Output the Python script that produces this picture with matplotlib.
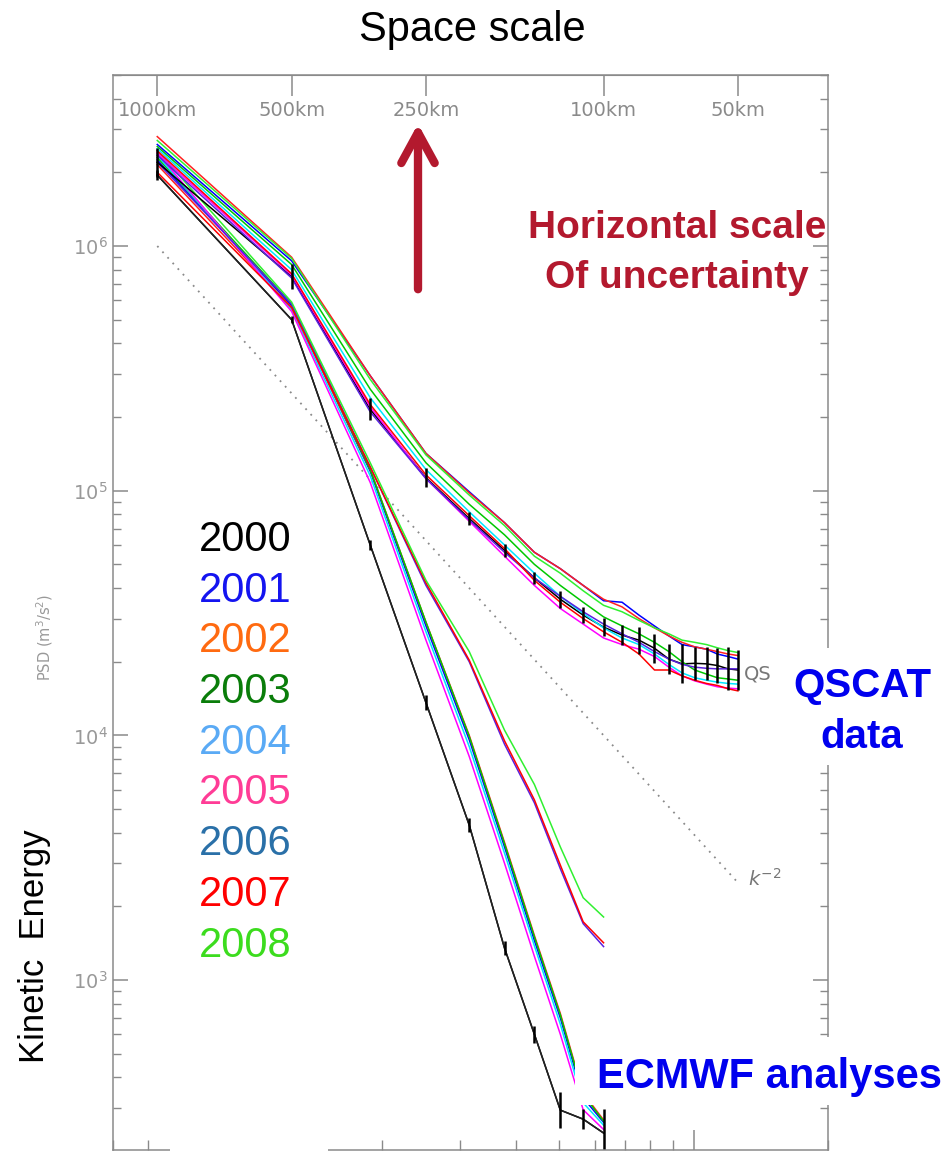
import numpy as np
import matplotlib
matplotlib.use("Agg")
import matplotlib.pyplot as plt
from matplotlib.ticker import LogLocator, NullLocator, NullFormatter, FixedLocator
from matplotlib.patches import Rectangle, FancyArrowPatch

# ---------------------------------------------------------------- data
years = ["2000", "2001", "2002", "2003", "2004", "2005", "2006", "2007", "2008"]
legend_colors = ["#000000", "#1414f0", "#ff6a10", "#0a7d0a", "#5aaaf5",
                 "#ff3c96", "#2a70a8", "#ff0000", "#3cdc1e"]
line_colors = ["#000000", "#0000ff", "#ff2020", "#00c800", "#00e6ff",
               "#ff00ff", "#5a20e0", "#ff0000", "#30f030"]

# wavelengths of the spectral bins (km)
wavelength_ecmwf = [1000, 500, 333.3, 250, 200, 166.7, 142.9, 125, 111.1, 100]
wavelength_qscat = [1000, 500, 333.3, 250, 200, 166.7, 142.9, 125, 111.1, 100,
                    90.9, 83.3, 76.9, 71.4, 66.7, 62.5, 58.8, 55.6, 52.6, 50]
top_tick_km = [1000, 500, 250, 100, 50]

# ECMWF analyses, PSD (m^3/s^2)
ecmwf_2000 = [1.95e6, 5.0e5, 6.0e4, 1.36e4, 4.3e3, 1.35e3, 600, 294, 270, 237]
ecmwf_2001 = [2.25e6, 5.7e5, 1.2e5, 2.8e4, 9.6e3, 3.5e3, 1.45e3, 700, 330, 262]
ecmwf_2002 = [2.15e6, 5.6e5, 1.22e5, 2.9e4, 1.0e4, 3.65e3, 1.52e3, 730, 345, 268]
ecmwf_2003 = [2.3e6, 5.8e5, 1.22e5, 2.9e4, 9.9e3, 3.6e3, 1.5e3, 720, 340, 265]
ecmwf_2004 = [2.35e6, 5.5e5, 1.15e5, 2.65e4, 9.0e3, 3.3e3, 1.38e3, 660, 315, 255]
ecmwf_2005 = [2.4e6, 5.4e5, 1.08e5, 2.45e4, 8.2e3, 3.0e3, 1.25e3, 600, 295, 245]
ecmwf_2006 = [2.2e6, 5.8e5, 1.25e5, 4.1e4, 2.0e4, 9.2e3, 5.3e3, 2.85e3, 1.7e3, 1.37e3]
ecmwf_2007 = [2.0e6, 5.6e5, 1.25e5, 4.2e4, 2.03e4, 9.5e3, 5.45e3, 2.95e3, 1.73e3, 1.42e3]
ecmwf_2008 = [2.45e6, 5.9e5, 1.3e5, 4.3e4, 2.2e4, 1.05e4, 6.3e3, 3.5e3, 2.17e3, 1.81e3]
ecmwf_err_dex = [0.02, 0.015, 0.02, 0.03, 0.03, 0.03, 0.035, 0.075, 0.04, 0.1]

# QuikSCAT, PSD (m^3/s^2)
qscat_2000 = [2.2e6, 7.5e5, 2.15e5, 1.13e5, 7.7e4, 5.7e4, 4.4e4, 3.6e4, 3.1e4, 2.77e4,
              2.57e4, 2.45e4, 2.27e4, 2.05e4, 1.96e4, 1.97e4, 1.96e4, 1.93e4, 1.87e4, 1.85e4]
qscat_2001 = [2.6e6, 8.7e5, 2.95e5, 1.42e5, 9.9e4, 7.4e4, 5.6e4, 4.8e4, 4.1e4, 3.55e4,
              3.5e4, 3.1e4, 2.8e4, 2.55e4, 2.35e4, 2.3e4, 2.25e4, 2.15e4, 2.1e4, 2.05e4]
qscat_2002 = [2.8e6, 9.0e5, 2.95e5, 1.42e5, 9.8e4, 7.4e4, 5.6e4, 4.8e4, 4.1e4, 3.6e4,
              3.35e4, 3.0e4, 2.75e4, 2.55e4, 2.4e4, 2.3e4, 2.25e4, 2.2e4, 2.15e4, 2.12e4]
qscat_2003 = [2.55e6, 8.4e5, 2.6e5, 1.3e5, 8.8e4, 6.6e4, 5.0e4, 4.1e4, 3.5e4, 3.05e4,
              2.8e4, 2.6e4, 2.4e4, 2.2e4, 2.0e4, 1.85e4, 1.78e4, 1.72e4, 1.7e4, 1.68e4]
qscat_2004 = [2.5e6, 8.0e5, 2.4e5, 1.22e5, 8.2e4, 6.0e4, 4.6e4, 3.7e4, 3.15e4, 2.75e4,
              2.5e4, 2.35e4, 2.15e4, 1.95e4, 1.8e4, 1.72e4, 1.68e4, 1.65e4, 1.63e4, 1.62e4]
qscat_2005 = [2.4e6, 7.6e5, 2.2e5, 1.12e5, 7.5e4, 5.4e4, 4.1e4, 3.3e4, 2.85e4, 2.5e4,
              2.35e4, 2.25e4, 2.1e4, 1.9e4, 1.75e4, 1.67e4, 1.62e4, 1.58e4, 1.56e4, 1.55e4]
qscat_2006 = [2.35e6, 7.4e5, 2.1e5, 1.12e5, 7.6e4, 5.6e4, 4.4e4, 3.7e4, 3.2e4, 2.85e4,
              2.6e4, 2.4e4, 2.2e4, 2.05e4, 1.95e4, 1.9e4, 1.88e4, 1.87e4, 1.87e4, 1.87e4]
qscat_2007 = [2.45e6, 7.7e5, 2.25e5, 1.16e5, 7.9e4, 5.8e4, 4.3e4, 3.5e4, 3.0e4, 2.65e4,
              2.4e4, 2.15e4, 1.85e4, 1.85e4, 1.75e4, 1.68e4, 1.63e4, 1.6e4, 1.55e4, 1.52e4]
qscat_2008 = [2.7e6, 8.9e5, 2.85e5, 1.4e5, 9.6e4, 7.2e4, 5.4e4, 4.6e4, 3.9e4, 3.4e4,
              3.2e4, 2.95e4, 2.75e4, 2.6e4, 2.45e4, 2.4e4, 2.35e4, 2.28e4, 2.22e4, 2.18e4]
qscat_err_dex = [0.06, 0.05, 0.045, 0.04, 0.025, 0.027, 0.025, 0.035, 0.033, 0.037,
                 0.04, 0.055, 0.06, 0.06, 0.08, 0.068, 0.068, 0.072, 0.088, 0.082]

# k^-2 reference slope
ref_km = [1000, 50]
ref_psd = [1.0e6, 2.5e3]

ecmwf_series = [ecmwf_2000, ecmwf_2001, ecmwf_2002, ecmwf_2003, ecmwf_2004,
                ecmwf_2005, ecmwf_2006, ecmwf_2007, ecmwf_2008]
qscat_series = [qscat_2000, qscat_2001, qscat_2002, qscat_2003, qscat_2004,
                qscat_2005, qscat_2006, qscat_2007, qscat_2008]


def km_to_k(km):
    """wavelength in km -> wavenumber in rad/m"""
    return 2 * np.pi / (np.asarray(km, dtype=float) * 1e3)


k_ecmwf = km_to_k(wavelength_ecmwf)
k_qscat = km_to_k(wavelength_qscat)

# ---------------------------------------------------------------- figure
W, H = 951, 1153
fig = plt.figure(figsize=(W / 100, H / 100), dpi=100)


def fx(px):
    return px / W


def fy(py):
    return 1 - py / H


gray = "#8a8a8a"
ax = fig.add_axes([fx(113), fy(1150), fx(828) - fx(113), fy(75) - fy(1150)])
ax.set_xscale("log")
ax.set_yscale("log")
ax.set_xlim(5e-6, 2e-4)
ax.set_ylim(202, 5.0e6)

for s in ax.spines.values():
    s.set_color(gray)
    s.set_linewidth(1.1)

# ticks
ax.yaxis.set_major_locator(LogLocator(base=10, numticks=20))
ax.yaxis.set_minor_locator(LogLocator(base=10, subs=np.arange(2, 10), numticks=20))
ax.yaxis.set_minor_formatter(NullFormatter())
ax.tick_params(axis="y", which="major", direction="in", length=11, width=1.1,
               colors=gray, labelsize=14, pad=4, right=True)
ax.tick_params(axis="y", which="minor", direction="in", length=5.8, width=1.0,
               colors=gray, right=True)
ax.xaxis.set_major_locator(LogLocator(base=10, numticks=20))
ax.xaxis.set_minor_locator(LogLocator(base=10, subs=np.arange(2, 10), numticks=20))
ax.tick_params(axis="x", which="major", direction="in", length=14.4, width=1.1,
               colors=gray, labelbottom=False, top=False)
ax.tick_params(axis="x", which="minor", direction="in", length=7.2, width=1.0,
               colors=gray, labelbottom=False, top=False)
for lbl in ax.get_yticklabels():
    lbl.set_color("#999999")

# top axis in wavelength
k_top = km_to_k(top_tick_km)
sec = ax.secondary_xaxis("top")
sec.xaxis.set_major_locator(FixedLocator(k_top))
sec.xaxis.set_minor_locator(NullLocator())
sec.tick_params(axis="x", direction="in", length=15, width=1.1, colors=gray,
                labeltop=False)
sec.spines["top"].set_color(gray)
for kk, km in zip(k_top, top_tick_km):
    ax.text(kk, 1 - 36 / 1075, f"{km}km", transform=ax.get_xaxis_transform(),
            ha="center", va="center", fontsize=14, color=gray)

# k^-2 reference line
ax.plot(km_to_k(ref_km), ref_psd, color="#8a8a8a", lw=1.3, ls=(0, (1, 3.2)))
ax.text(km_to_k(47.5), 2.6e3, r"$k^{-2}$", fontsize=14, color="#777777",
        ha="left", va="center")

# spectra
for col, vals in zip(line_colors, ecmwf_series):
    ax.plot(k_ecmwf, vals, color=col, lw=1.1)
for col, vals in zip(line_colors, qscat_series):
    ax.plot(k_qscat, vals, color=col, lw=1.1)
ax.plot(k_ecmwf, ecmwf_2000, color="#222222", lw=1.1)


# error bars
def dex_err(vals, dex):
    v = np.asarray(vals)
    d = np.asarray(dex)
    return np.vstack([v - v / 10 ** d, v * 10 ** d - v])


ax.errorbar(k_ecmwf, ecmwf_2000, yerr=dex_err(ecmwf_2000, ecmwf_err_dex),
            fmt="none", ecolor="black", elinewidth=1.8, capsize=0)
ax.errorbar(k_qscat, qscat_2000, yerr=dex_err(qscat_2000, qscat_err_dex),
            fmt="none", ecolor="black", elinewidth=1.8, capsize=0)

ax.text(km_to_k(48.5), 1.78e4, "QS", fontsize=14, color="#777777",
        ha="left", va="center")

# ---------------------------------------------------------------- annotations
# white text boxes laid over the plot
for (x0, y0, x1, y1) in [(770, 648, 951, 765), (575, 1037, 951, 1105),
                         (170, 1124, 328, 1153)]:
    fig.add_artist(Rectangle((fx(x0), fy(y1)), fx(x1) - fx(x0), fy(y0) - fy(y1),
                             transform=fig.transFigure, facecolor="white",
                             edgecolor="none", zorder=5))

sans = "Liberation Sans"
fig.text(fx(472), fy(30), "Space scale", fontsize=30, family=sans,
         ha="center", va="center", zorder=6)

for i, (yr, c) in enumerate(zip(years, legend_colors)):
    fig.text(fx(199), fy(540 + i * 50.7), yr, fontsize=30, family=sans,
             color=c, ha="left", va="center", zorder=6)

dark_red = "#b3192e"
fig.text(fx(677), fy(228), "Horizontal scale", fontsize=28, family=sans,
         weight="bold", color=dark_red, ha="center", va="center", zorder=6)
fig.text(fx(677), fy(278), "Of uncertainty", fontsize=28, family=sans,
         weight="bold", color=dark_red, ha="center", va="center", zorder=6)
fig.add_artist(FancyArrowPatch((fx(418), fy(292)), (fx(418), fy(121)),
                               transform=fig.transFigure,
                               arrowstyle="->,head_length=2.2,head_width=1.2",
                               mutation_scale=10, lw=6, color=dark_red,
                               capstyle="round", joinstyle="round", zorder=6))

blue = "#0000ee"
fig.text(fx(862), fy(686), "QSCAT", fontsize=29, family=sans, weight="bold",
         color=blue, ha="center", va="center", zorder=6)
fig.text(fx(862), fy(737), "data", fontsize=29, family=sans, weight="bold",
         color=blue, ha="center", va="center", zorder=6)
fig.text(fx(597), fy(1077), "ECMWF analyses", fontsize=30, family=sans,
         weight="bold", color=blue, ha="left", va="center", zorder=6)

fig.text(fx(35), fy(946), "Kinetic  Energy", fontsize=25, family=sans,
         rotation=90, ha="center", va="center", zorder=6)
fig.text(fx(45), fy(637), r"PSD (m$^3$/s$^2$)", fontsize=10.5, color="#999999",
         rotation=90, ha="center", va="center", zorder=6)

fig.savefig("out.png", dpi=100)
